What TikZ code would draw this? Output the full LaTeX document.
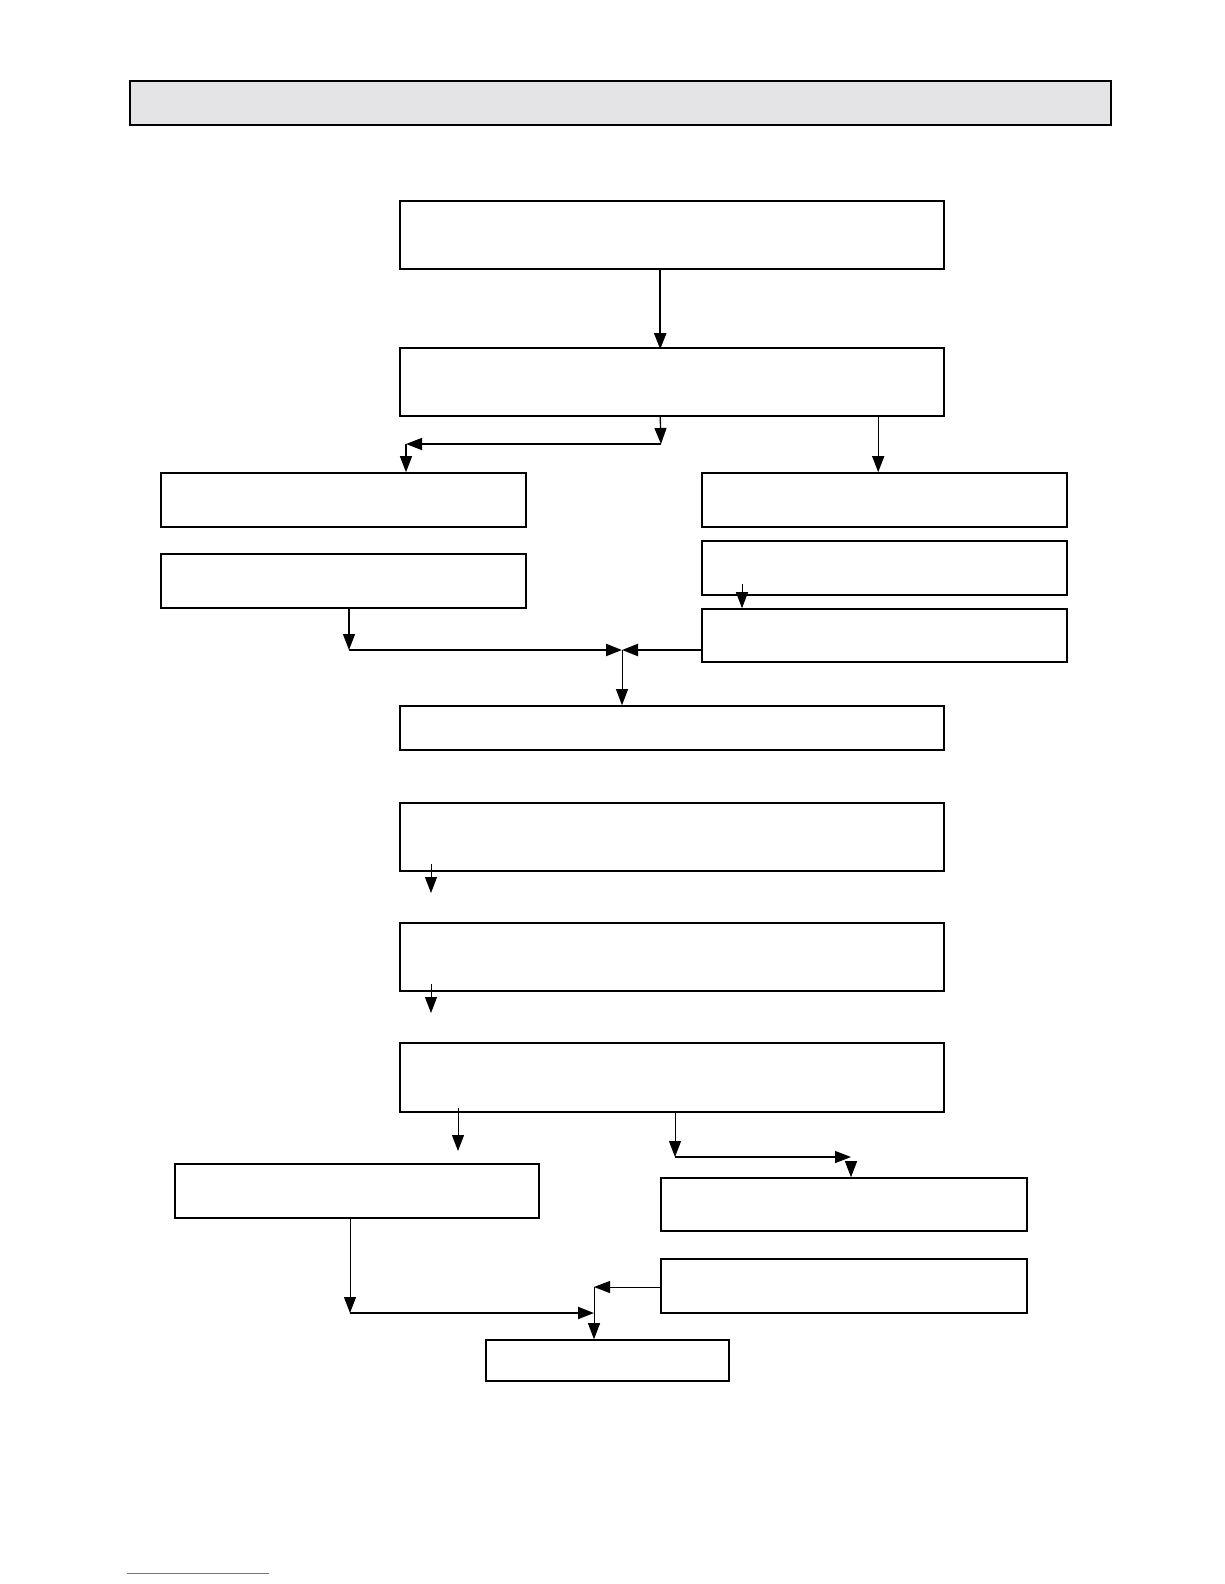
\documentclass[tikz,border=0pt]{standalone}
\usepackage{tikz}
\usetikzlibrary{arrows.meta,positioning,calc,fit}
\definecolor{barfill}{RGB}{228,228,230}
\tikzset{
  blok/.style={draw,line width=1.6pt,inner sep=0pt},
  arr/.style={-{Triangle[length=16pt,width=12pt]},line width=1.3pt},
  tharr/.style={arr,line width=2.2pt}
}
\begin{document}
\begin{tikzpicture}[x=1pt,y=-1pt]
\useasboundingbox (0,0) rectangle (1224,1584);
\node[blok,fill=barfill,fit={(130,81) (1111,125)}] (bar) {};
\node[blok,fit={(400,201) (944,269)}] (top) {};
\node[blok,fit={(400,348) (944,416)}] (second) {};
\node[blok,fit={(161,473) (526,527)}] (leftA) {};
\node[blok,fit={(161,554) (526,608)}] (leftB) {};
\node[blok,fit={(702,473) (1067,527)}] (rightA) {};
\node[blok,fit={(702,541) (1067,595)}] (rightB) {};
\node[blok,fit={(702,609) (1067,662)}] (rightC) {};
\node[blok,fit={(400,706) (944,750)}] (middle) {};
\node[blok,fit={(400,803) (944,871)}] (stepA) {};
\node[blok,fit={(400,923) (944,991)}] (stepB) {};
\node[blok,fit={(400,1043) (944,1112)}] (stepC) {};
\node[blok,fit={(175,1164) (539,1218)}] (lowL) {};
\node[blok,fit={(661,1178) (1027,1231)}] (lowRA) {};
\node[blok,fit={(661,1259) (1027,1313)}] (lowRB) {};
\node[blok,fit={(486,1340) (729,1381)}] (last) {};
% upper part
\draw[tharr] ([xshift=261pt]top.south west) -- ([xshift=261pt,yshift=-2pt]second.north west);
\coordinate (splitL) at (661,444);
\coordinate (turnL) at (406,444);
\draw[arr] ([xshift=261pt]second.south west) -- (splitL);
\draw[arr] (splitL) -- (turnL);
\draw[arr] (turnL) -- (turnL |- leftA.north);
\draw[arr] ([xshift=479pt]second.south west) -- ([xshift=177pt]rightA.north west);
\coordinate (inB) at (742,584);
\draw[arr,line width=1pt] (inB) -- (inB |- rightC.north);
% first merge
\coordinate (cornA) at (349,650);
\coordinate (mergeA) at (622,650);
\draw[arr] (cornA |- leftB.south) -- (cornA);
\draw[tharr] (cornA) -- (mergeA);
\draw[tharr] (rightC.west |- mergeA) -- (mergeA);
\draw[arr,line width=1pt] (mergeA) -- (mergeA |- middle.north);
% steps
\coordinate (inS1) at (431,864);
\coordinate (inS2) at (431,984);
\draw[arr,line width=1pt] (inS1) -- ++(0,29);
\draw[arr,line width=1pt] (inS2) -- ++(0,29);
% lower split
\coordinate (inL) at (458,1108);
\draw[arr,line width=1pt] (inL) -- ++(0,43);
\coordinate (cornB) at (675,1157);
\coordinate (cornC) at (851,1157);
\draw[arr,line width=1pt] (cornB |- stepC.south) -- (cornB);
\draw[arr] (cornB) -- (cornC);
\draw[arr,line width=1pt] ([yshift=-7pt]cornC) -- (cornC |- lowRA.north);
% second merge
\coordinate (cornD) at (350,1313);
\coordinate (mergeB) at (594,1313);
\coordinate (joinB) at (594,1287);
\draw[arr,line width=1pt] (cornD |- lowL.south) -- (cornD);
\draw[tharr] (cornD) -- (mergeB);
\draw[arr,line width=1pt] (lowRB.west |- joinB) -- (joinB);
\draw[arr,line width=1pt] (joinB) -- (joinB |- last.north);
\draw[line width=1pt,blue!60] (127,1573) -- (269,1573);
\end{tikzpicture}
\end{document}
